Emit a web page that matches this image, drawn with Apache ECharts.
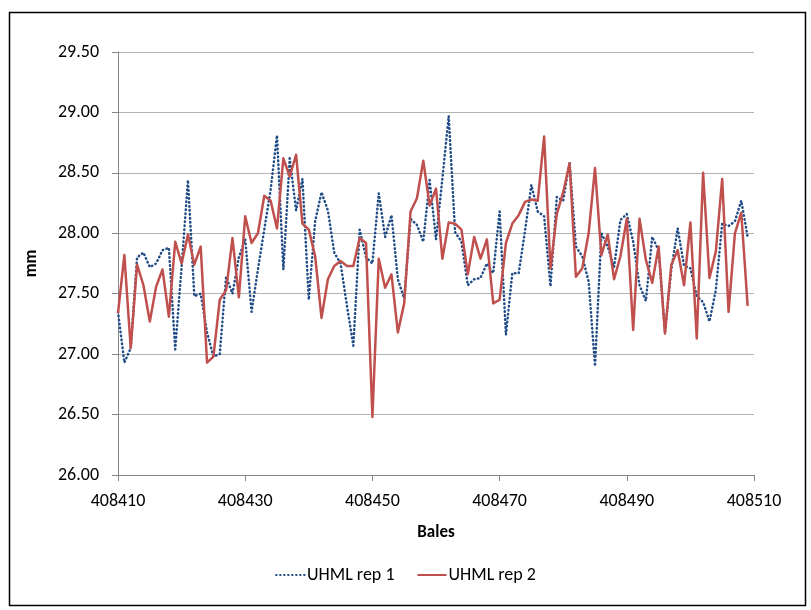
<!DOCTYPE html>
<html>
    <head>
        <meta charset="utf-8">
        <script src="https://cdn.jsdelivr.net/npm/echarts@6/dist/echarts.min.js"></script>
        <style>
            html, body { margin: 0; padding: 0; background: #fff; }
            #main { width: 811px; height: 610px; }
        </style>
    </head>
    <body>
        <div id="main"></div>

        <script>

        // bale numbers 408410 .. 408509
        var firstBale = 408410;

        var rep1 = [
            27.35, 26.93, 27.05, 27.80, 27.84, 27.72, 27.75, 27.86, 27.88, 27.04,
            27.72, 28.44, 27.48, 27.50, 27.18, 26.98, 27.00, 27.64, 27.50, 27.80,
            27.95, 27.35, 27.70, 28.03, 28.36, 28.81, 27.70, 28.62, 28.19, 28.45,
            27.45, 28.10, 28.34, 28.19, 27.84, 27.75, 27.40, 27.07, 28.03, 27.80,
            27.75, 28.33, 27.97, 28.15, 27.62, 27.46, 28.12, 28.07, 27.93, 28.44,
            27.95, 28.45, 28.97, 28.01, 27.93, 27.57, 27.62, 27.63, 27.75, 27.67,
            28.18, 27.16, 27.67, 27.67, 28.02, 28.40, 28.18, 28.14, 27.56, 28.30,
            28.27, 28.59, 27.89, 27.81, 27.60, 26.90, 28.00, 27.89, 27.72, 28.11,
            28.16, 27.93, 27.57, 27.44, 27.97, 27.86, 27.18, 27.70, 28.04, 27.73,
            27.71, 27.48, 27.43, 27.27, 27.53, 28.08, 28.06, 28.10, 28.27, 27.97
        ];

        var rep2 = [
            27.34, 27.82, 27.05, 27.74, 27.57, 27.27, 27.56, 27.70, 27.31, 27.93,
            27.75, 27.99, 27.74, 27.89, 26.93, 26.98, 27.45, 27.53, 27.96, 27.47,
            28.14, 27.92, 28.00, 28.31, 28.27, 28.04, 28.62, 28.47, 28.65, 28.08,
            28.03, 27.81, 27.30, 27.62, 27.73, 27.77, 27.73, 27.73, 27.96, 27.92,
            26.48, 27.79, 27.55, 27.66, 27.18, 27.42, 28.18, 28.29, 28.60, 28.23,
            28.37, 27.79, 28.09, 28.08, 28.03, 27.66, 27.97, 27.79, 27.95, 27.42,
            27.45, 27.92, 28.08, 28.15, 28.26, 28.28, 28.27, 28.80, 27.71, 28.16,
            28.34, 28.58, 27.64, 27.71, 28.00, 28.54, 27.82, 27.99, 27.62, 27.81,
            28.12, 27.20, 28.12, 27.78, 27.59, 27.89, 27.17, 27.74, 27.86, 27.57,
            28.09, 27.13, 28.50, 27.63, 27.85, 28.45, 27.35, 28.00, 28.17, 27.40
        ];

        var seriesNames = ['UHML rep 1', 'UHML rep 2'];

        function pairs(values) {
            return values.map(function (v, i) {
                return [firstBale + i, v];
            });
        }

        var font = 'Carlito, Lato, "Liberation Sans", sans-serif';

        option = {
            animation: false,
            backgroundColor: '#fff',
            textStyle: {
                fontFamily: font
            },
            graphic: [
                {
                    type: 'rect',
                    left: 7,
                    top: 10,
                    shape: { width: 796, height: 593 },
                    style: { fill: 'none', stroke: '#000', lineWidth: 1.5 },
                    silent: true
                }
            ],
            grid: {
                left: 118,
                right: 57,
                top: 52,
                bottom: 135
            },
            legend: {
                top: 561,
                left: 'center',
                itemWidth: 29,
                itemHeight: 10,
                itemGap: 22,
                itemStyle: { opacity: 0 },
                textStyle: {
                    fontFamily: font,
                    fontSize: 18,
                    color: '#000',
                    padding: [0, 0, 0, -3]
                },
                data: seriesNames
            },
            xAxis: {
                type: 'value',
                min: 408410,
                max: 408510,
                interval: 20,
                name: 'Bales',
                nameLocation: 'middle',
                nameGap: 49,
                nameTextStyle: {
                    fontFamily: font,
                    fontSize: 17,
                    fontWeight: 'bold',
                    color: '#000'
                },
                axisLine: {
                    lineStyle: { color: '#868686', width: 1 }
                },
                axisTick: {
                    show: true,
                    length: 6,
                    lineStyle: { color: '#868686' }
                },
                axisLabel: {
                    color: '#000',
                    fontSize: 18,
                    margin: 17,
                    fontFamily: font,
                    formatter: function (v) { return String(v); }
                },
                splitLine: { show: false }
            },
            yAxis: {
                type: 'value',
                min: 26,
                max: 29.5,
                interval: 0.5,
                name: 'mm',
                nameLocation: 'middle',
                nameGap: 78,
                nameRotate: 90,
                nameTextStyle: {
                    fontFamily: font,
                    fontSize: 17,
                    fontWeight: 'bold',
                    color: '#000'
                },
                axisLine: {
                    show: true,
                    lineStyle: { color: '#868686', width: 1 }
                },
                axisTick: {
                    show: true,
                    length: 6,
                    lineStyle: { color: '#868686' }
                },
                axisLabel: {
                    color: '#000',
                    fontSize: 18,
                    margin: 19,
                    fontFamily: font,
                    formatter: function (v) { return v.toFixed(2); }
                },
                splitLine: {
                    lineStyle: { color: '#b3b3b3', width: 1 }
                }
            },
            series: [
                {
                    name: seriesNames[0],
                    type: 'line',
                    data: pairs(rep1),
                    symbol: 'none',
                    color: '#1f4b86',
                    lineStyle: {
                        color: '#1f4b86',
                        width: 2.5,
                        type: [0.5, 3.5],
                        cap: 'round',
                        join: 'round'
                    },
                    z: 2
                },
                {
                    name: seriesNames[1],
                    type: 'line',
                    data: pairs(rep2),
                    symbol: 'none',
                    color: '#c0504d',
                    lineStyle: {
                        color: '#c0504d',
                        width: 2.5,
                        join: 'round'
                    },
                    z: 3
                }
            ]
        };

        var myChart = echarts.init(document.getElementById('main'));
        myChart.setOption(option);

        </script>
    </body>
</html>
